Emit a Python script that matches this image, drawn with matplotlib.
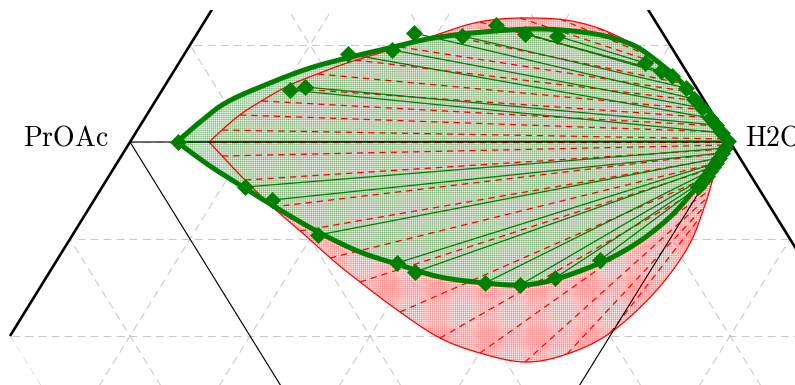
import numpy as np
import matplotlib
matplotlib.use("Agg")
import matplotlib.pyplot as plt
from matplotlib.patches import Polygon

plt.rcParams["mathtext.fontset"] = "cm"
plt.rcParams["hatch.linewidth"] = 0.3

# ---------------- data (x: % along PrOAc->H2O, y: % height) ----------------
labels = ["PrOAc", "H2O"]
vertex_x = [0.0, 100.0]
vertex_y = [0.0, 0.0]

# experimental binodal (green), upper branch then lower branch
green_up_x = [7.83, 11.67, 16.17, 23.33, 30.0, 36.17, 43.83, 50.5, 58.83, 67.17,
              73.83, 79.17, 83.83, 87.17, 91.17, 93.83, 97.17, 99.17, 100.0]
green_up_y = [0.0, 3.57, 7.14, 10.54, 13.21, 15.0, 16.96, 18.57, 19.64, 20.18,
              19.82, 18.93, 17.32, 15.0, 11.43, 8.39, 4.64, 1.79, 0.18]
green_lo_x = [100.0, 98.33, 96.67, 94.5, 90.0, 84.5, 78.33, 70.5, 65.0, 59.17,
              51.67, 45.0, 38.33, 31.67, 25.0, 18.83, 13.33, 7.83]
green_lo_y = [0.0, -2.32, -5.0, -8.04, -13.39, -18.04, -21.61, -24.64, -25.54, -25.18,
              -24.11, -21.96, -19.64, -16.25, -12.14, -8.04, -4.29, 0.0]

# experimental tie lines: organic end (left) / aqueous end (right)
tie_left_x = [8.0, 26.67, 29.17, 36.33, 43.67, 47.33, 55.33, 61.0, 65.83, 71.17,
              19.17, 23.67, 31.33, 44.5, 47.5, 59.17, 65.0, 70.83, 78.33]
tie_left_y = [0.0, 9.29, 9.82, 15.71, 16.43, 19.46, 18.93, 20.89, 19.29, 18.93,
              -8.04, -10.36, -16.61, -21.61, -23.21, -25.18, -25.54, -24.29, -21.07]
tie_right_x = [99.67, 98.67, 97.67, 96.67, 95.33, 94.0, 92.67, 90.33, 88.5, 85.83,
               99.17, 98.67, 98.17, 97.67, 97.17, 96.67, 96.17, 95.5, 94.67]
tie_right_y = [0.18, 1.61, 3.04, 4.29, 6.07, 7.68, 9.64, 11.79, 12.68, 14.11,
               -1.07, -1.96, -2.86, -3.75, -4.46, -5.18, -6.07, -6.96, -8.04]

# model binodal (red)
red_up_x = [13.17, 17.83, 22.17, 26.67, 31.67, 36.17, 43.83, 50.5, 56.67, 61.67,
            67.17, 72.5, 77.5, 82.5, 86.67, 90.83, 94.17, 97.17, 99.17, 100.0]
red_up_y = [0.0, 4.46, 7.5, 10.18, 12.32, 14.11, 16.61, 18.93, 21.07, 21.96,
            22.14, 21.79, 20.54, 18.21, 15.18, 11.43, 7.86, 4.46, 1.25, 0.0]
red_lo_x = [100.0, 98.67, 97.5, 95.83, 93.0, 87.5, 80.0, 72.83, 65.83, 58.33,
            51.67, 45.0, 38.33, 34.17, 29.5, 25.83, 22.83, 18.33, 13.17]
red_lo_y = [0.0, -2.68, -5.36, -11.25, -18.75, -26.79, -34.11, -37.86, -39.29, -37.68,
            -35.0, -30.36, -25.0, -21.43, -16.96, -13.57, -10.71, -5.89, 0.0]

# model tie lines
rtie_left_x = [13.17, 15.33, 18.33, 22.0, 25.83, 31.33, 37.5, 45.0, 51.67, 58.33, 65.0, 71.67, 78.0,
               15.33, 19.17, 23.67, 28.33, 33.33, 38.33, 45.0, 51.67, 58.33, 65.83, 72.83, 80.0]
rtie_left_y = [0.0, 2.14, 4.82, 7.32, 9.64, 12.14, 14.64, 16.96, 19.29, 21.43, 22.14, 21.96, 20.36,
               -2.5, -6.79, -11.61, -15.89, -20.71, -25.0, -30.36, -35.0, -37.68, -39.29, -37.86, -34.11]
rtie_right_x = [100.0, 99.67, 99.0, 98.33, 97.33, 96.17, 94.83, 93.33, 91.67, 89.83, 87.83, 85.83, 83.67,
                99.67, 99.33, 99.0, 98.67, 98.33, 97.83, 97.5, 97.0, 96.67, 96.17, 95.5, 94.67]
rtie_right_y = [0.0, 0.54, 1.79, 2.86, 4.29, 5.71, 7.32, 8.93, 10.54, 12.14, 14.11, 15.71, 17.32,
                -0.54, -1.25, -1.96, -2.86, -3.57, -4.46, -5.71, -7.14, -8.57, -10.0, -11.79, -13.93]

# frame geometry (ternary axes)
outer_x = [-20.0, 50.0, 120.0]          # thick outer edges
outer_y = [-34.64, 86.6, -34.64]
clip_x = [-20.0, 50.0, 120.0, 100.0, 0.0]
clip_y = [-34.64, 86.6, -34.64, -69.28, -69.28]
inner_x = [0.0, 100.0, 50.0, 0.0]       # thin PrOAc-H2O-third triangle
inner_y = [0.0, 0.0, -86.6, 0.0]


def smooth(xs, ys, n=16):
    """Catmull-Rom path through the given curve points (drawing only)."""
    P = np.column_stack([xs, ys]).astype(float)
    P = np.vstack([P[0], P, P[-1]])
    t = np.linspace(0, 1, n, endpoint=False)[:, None]
    out = []
    for i in range(1, len(P) - 2):
        p0, p1, p2, p3 = P[i - 1], P[i], P[i + 1], P[i + 2]
        out.append(0.5 * (2 * p1 + (-p0 + p2) * t + (2 * p0 - 5 * p1 + 4 * p2 - p3) * t ** 2
                          + (-p0 + 3 * p1 - 3 * p2 + p3) * t ** 3))
    out.append(P[-2][None])
    return np.vstack(out)


# ---------------- figure ----------------
fig = plt.figure(figsize=(7.95, 3.85), dpi=100)
ax = fig.add_axes([0, 0, 1, 375 / 385])
ax.set_xlim(-21.67, 110.83)
ax.set_ylim(-43.39, 23.57)
ax.axis("off")

clip = Polygon(np.column_stack([clip_x, clip_y]), closed=True,
               transform=ax.transData, facecolor="none", edgecolor="none")
ax.add_patch(clip)

# grid
s3 = np.sqrt(3)
yy = np.array([-100.0, 100.0])
grid_kw = dict(color="#c8c8c8", lw=0.75, ls=(0, (7.5, 5)), zorder=1)
for k in range(-6, 7):
    ln, = ax.plot([-100, 200], [k * 17.32, k * 17.32], **grid_kw)
    ln.set_clip_path(clip)
for i in range(-10, 16):
    c = 20 * i
    ln, = ax.plot(c + yy / s3, yy, **grid_kw)
    ln.set_clip_path(clip)
    ln, = ax.plot(c - yy / s3, yy, **grid_kw)
    ln.set_clip_path(clip)

# frame lines
ax.plot(outer_x, outer_y, color="black", lw=1.9, zorder=3, solid_capstyle="butt")
ax.plot(inner_x, inner_y, color="black", lw=0.8, zorder=6)

# smoothed curves
g = np.vstack([smooth(green_up_x, green_up_y), smooth(green_lo_x, green_lo_y)])
r = np.vstack([smooth(red_up_x, red_up_y), smooth(red_lo_x, red_lo_y)])

# fills
ax.fill(r[:, 0], r[:, 1], facecolor="#ffeaea", edgecolor="#ff7a7a", hatch="++++++++",
        lw=0, zorder=2)
ax.fill(g[:, 0], g[:, 1], facecolor="#e2f0e2", edgecolor="#5aa85a", hatch="++++++++",
        lw=0, zorder=2, alpha=0.8)

# model curve & tie lines
ax.plot(r[:, 0], r[:, 1], color="red", lw=0.9, zorder=4)
for x0, y0, x1, y1 in zip(rtie_left_x, rtie_left_y, rtie_right_x, rtie_right_y):
    ax.plot([x0, x1], [y0, y1], color="red", lw=0.9, ls=(0, (5, 4)), zorder=4)

# experimental tie lines, curve, points
for x0, y0, x1, y1 in zip(tie_left_x, tie_left_y, tie_right_x, tie_right_y):
    ax.plot([x0, x1], [y0, y1], color="green", lw=0.9, zorder=5)
ax.plot(g[:, 0], g[:, 1], color="green", lw=3.6, zorder=7, solid_joinstyle="miter")
ax.plot(tie_left_x + tie_right_x, tie_left_y + tie_right_y, ls="none", marker="D",
        ms=8, color="green", mec="green", mew=0.5, zorder=8)

# labels
ax.text(vertex_x[0] - 3.5, vertex_y[0] - 0.54, r"$\mathrm{%s}$" % labels[0],
        ha="right", va="baseline", fontsize=20, zorder=9)
ax.text(vertex_x[1] + 2.5, vertex_y[1] - 0.54, r"$\mathrm{%s}$" % labels[1],
        ha="left", va="baseline", fontsize=20, zorder=9, clip_on=False)

fig.savefig("out.png", dpi=100)
